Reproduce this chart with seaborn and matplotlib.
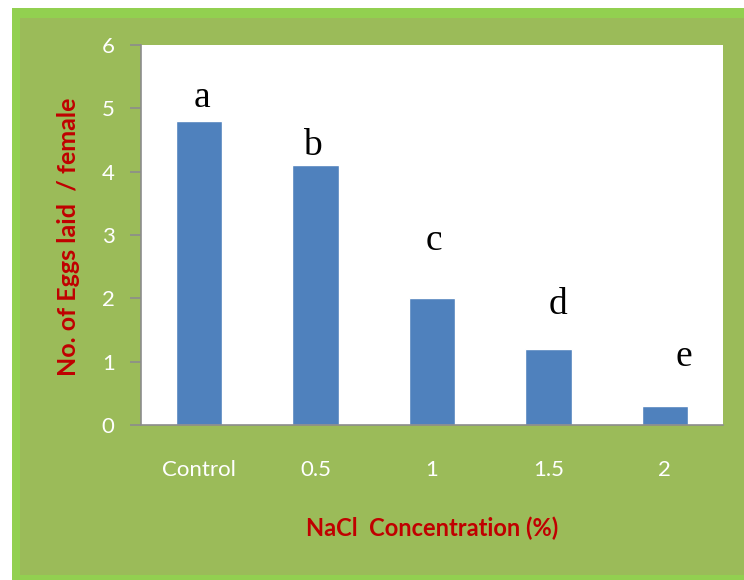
import matplotlib
matplotlib.use("Agg")
import matplotlib.pyplot as plt
import seaborn as sns
import pandas as pd
from matplotlib.patches import Rectangle

# data
concentration = ["Control", "0.5", "1", "1.5", "2"]
eggs_per_female = [4.8, 4.1, 2.0, 1.2, 0.3]
sig_letters = ["a", "b", "c", "d", "e"]
letter_y = [4.89, 4.13, 2.63, 1.63, 0.8]
letter_dx = [0.02, -0.03, 0.02, 0.08, 0.16]

df = pd.DataFrame({"conc": concentration, "eggs": eggs_per_female})

sns.set_theme(style="white")
plt.rcParams["font.family"] = ["Lato", "DejaVu Sans"]

fig = plt.figure(figsize=(7.44, 5.80), dpi=100)
fig.patch.set_facecolor("white")

W, H = 744.0, 580.0
# outer light green frame and olive fill (behind the axes)
fig.patches.append(Rectangle((12 / W, -0.1), 1.2, 1 - 8 / H + 0.1,
                             transform=fig.transFigure, facecolor="#92D050",
                             edgecolor="none", zorder=-2))
fig.patches.append(Rectangle((20 / W, 1 - 575 / H), 1.2, (575 - 18) / H,
                             transform=fig.transFigure, facecolor="#9BBB59",
                             edgecolor="none", zorder=-1))

ax = fig.add_axes([141 / W, 1 - 425 / H, (723 - 141) / W, (425 - 45) / H])
ax.set_facecolor("white")

sns.barplot(data=df, x="conc", y="eggs", color="#4F81BD", width=0.4,
            saturation=1, ax=ax)

for i, (lab, yy) in enumerate(zip(sig_letters, letter_y)):
    ax.text(i + letter_dx[i], yy, lab, ha="center", va="bottom",
            family="Liberation Serif", fontsize=27, color="black")

ax.set_ylim(0, 6)
ax.set_xlim(-0.5, 4.5)
ax.set_yticks(range(0, 7))

for s in ["top", "right"]:
    ax.spines[s].set_visible(False)
for s in ["left", "bottom"]:
    ax.spines[s].set_color("#8C8C8C")
    ax.spines[s].set_linewidth(1.2)

ax.tick_params(axis="y", left=True, length=8, width=1.2, color="#8C8C8C",
               labelsize=16, labelcolor="white", pad=11)
ax.tick_params(axis="x", bottom=False, length=0, labelsize=16,
               labelcolor="white", pad=25)

ax.set_xlabel("NaCl  Concentration (%)", color="#C00000", fontsize=17,
              fontweight="bold")
ax.set_ylabel("No. of Eggs laid  / female", color="#C00000", fontsize=18,
              fontweight="bold")
ax.xaxis.set_label_coords(0.5, -0.24)
ax.yaxis.set_label_coords(-0.105, 0.495)

fig.savefig("out.png", dpi=100)
